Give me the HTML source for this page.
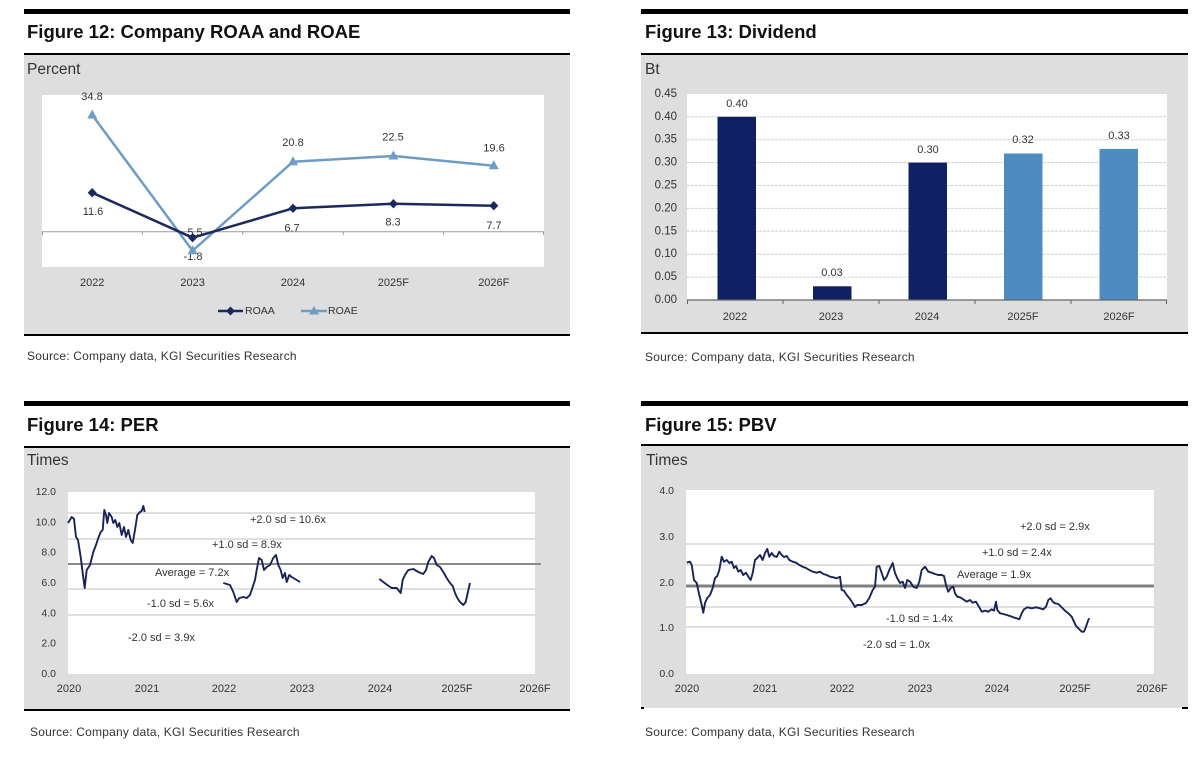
<!DOCTYPE html>
<html><head><meta charset="utf-8"><style>
html,body{margin:0;padding:0;background:#fff;}
svg{display:block;}
text{font-family:"Liberation Sans",Arial,sans-serif;fill:#333;}
.t{font-weight:bold;font-size:18.5px;fill:#111;}
.u{font-size:15.5px;fill:#333;}
.s{font-size:12px;letter-spacing:0.2px;fill:#333;}
.l{font-size:11px;}
.y{font-size:10.5px;}
</style></head><body>
<svg width="1200" height="760" viewBox="0 0 1200 760" xmlns="http://www.w3.org/2000/svg">
<rect width="1200" height="760" fill="#fff"/>

<!-- ============ Figure 12 ============ -->
<rect x="24" y="9" width="546" height="5" fill="#000"/>
<text class="t" x="27" y="38">Figure 12: Company ROAA and ROAE</text>
<rect x="24" y="53" width="546" height="2" fill="#000"/>
<rect x="24" y="55" width="546" height="279" fill="#dedede"/>
<rect x="24" y="334" width="546" height="2" fill="#000"/>
<text class="u" x="27" y="74">Percent</text>
<rect x="42" y="95" width="502" height="172" fill="#fff"/>
<line x1="42" y1="231.7" x2="544" y2="231.7" stroke="#9a9a9a" stroke-width="1"/>
<g stroke="#9a9a9a" stroke-width="1">
<line x1="42.5" y1="231.7" x2="42.5" y2="235"/><line x1="142.4" y1="231.7" x2="142.4" y2="235"/><line x1="242.8" y1="231.7" x2="242.8" y2="235"/><line x1="343.2" y1="231.7" x2="343.2" y2="235"/><line x1="443.6" y1="231.7" x2="443.6" y2="235"/><line x1="543.5" y1="231.7" x2="543.5" y2="235"/>
</g>
<g class="l" text-anchor="middle" dominant-baseline="central">
<text x="92" y="97">34.8</text>
<text x="293" y="143">20.8</text>
<text x="393" y="137.5">22.5</text>
<text x="494" y="148.5">19.6</text>
<text x="93" y="212">11.6</text>
<text x="292" y="228.5">6.7</text>
<text x="393" y="222.5">8.3</text>
<text x="494" y="226">7.7</text>
<text x="195" y="233">5.5</text>
<text x="193" y="257">-1.8</text>
</g>
<polyline points="92.2,115 192.6,250.7 293,161.7 393.4,156 493.8,165.7" fill="none" stroke="#6d9dc5" stroke-width="2.5" stroke-linejoin="round"/>
<g fill="#6d9dc5">
<path d="M92.2,109.5 L97.2,118.5 L87.2,118.5Z"/><path d="M192.6,245.2 L197.6,254.2 L187.6,254.2Z"/><path d="M293,156.2 L298,165.2 L288,165.2Z"/><path d="M393.4,150.5 L398.4,159.5 L388.4,159.5Z"/><path d="M493.8,160.2 L498.8,169.2 L488.8,169.2Z"/>
</g>
<polyline points="92.2,192.7 192.6,237.7 293,208.3 393.4,203.7 493.8,205.7" fill="none" stroke="#1b2a5e" stroke-width="2.5" stroke-linejoin="round"/>
<g fill="#1b2a5e">
<path d="M92.2,188 L96.7,192.7 L92.2,197.4 L87.7,192.7Z"/><path d="M192.6,233 L197.1,237.7 L192.6,242.4 L188.1,237.7Z"/><path d="M293,203.6 L297.5,208.3 L293,213 L288.5,208.3Z"/><path d="M393.4,199 L397.9,203.7 L393.4,208.4 L388.9,203.7Z"/><path d="M493.8,201 L498.3,205.7 L493.8,210.4 L489.3,205.7Z"/>
</g>
<g class="l" text-anchor="middle" dominant-baseline="central">
<text x="92.2" y="283">2022</text><text x="192.6" y="283">2023</text><text x="293" y="283">2024</text><text x="393.4" y="283">2025F</text><text x="493.8" y="283">2026F</text>
</g>
<line x1="218" y1="311" x2="243" y2="311" stroke="#1b2a5e" stroke-width="2.5"/>
<path d="M230.5,306.5 L235,311 L230.5,315.5 L226,311Z" fill="#1b2a5e"/>
<text x="245" y="311" font-size="10.5" dominant-baseline="central">ROAA</text>
<line x1="301" y1="311" x2="327" y2="311" stroke="#6d9dc5" stroke-width="2.5"/>
<path d="M314,306 L319,314.5 L309,314.5Z" fill="#6d9dc5"/>
<text x="328" y="311" font-size="10.5" dominant-baseline="central">ROAE</text>
<text class="s" x="27" y="360">Source: Company data, KGI Securities Research</text>

<!-- ============ Figure 13 ============ -->
<rect x="641" y="9" width="547" height="5" fill="#000"/>
<text class="t" x="645" y="38">Figure 13: Dividend</text>
<rect x="641" y="53" width="547" height="2" fill="#000"/>
<rect x="641" y="55" width="547" height="278" fill="#dedede"/>
<rect x="641" y="332" width="547" height="2" fill="#000"/>
<text class="u" x="645" y="74">Bt</text>
<rect x="687" y="94" width="480" height="206" fill="#fff"/>
<g stroke="#cfcfcf" stroke-width="1" stroke-dasharray="3,1">
<line x1="687" y1="277.1" x2="1167" y2="277.1"/><line x1="687" y1="254.2" x2="1167" y2="254.2"/><line x1="687" y1="231.3" x2="1167" y2="231.3"/><line x1="687" y1="208.4" x2="1167" y2="208.4"/><line x1="687" y1="185.5" x2="1167" y2="185.5"/><line x1="687" y1="162.6" x2="1167" y2="162.6"/><line x1="687" y1="139.7" x2="1167" y2="139.7"/><line x1="687" y1="116.8" x2="1167" y2="116.8"/>
</g>
<g font-size="11.5" text-anchor="end" dominant-baseline="central">
<text x="677" y="94">0.45</text><text x="677" y="116.8">0.40</text><text x="677" y="139.7">0.35</text><text x="677" y="162.6">0.30</text><text x="677" y="185.5">0.25</text><text x="677" y="208.4">0.20</text><text x="677" y="231.3">0.15</text><text x="677" y="254.2">0.10</text><text x="677" y="277.1">0.05</text><text x="677" y="300">0.00</text>
</g>
<rect x="717.5" y="116.8" width="38.5" height="183.2" fill="#0f2163"/>
<rect x="813" y="286.3" width="38.5" height="13.7" fill="#0f2163"/>
<rect x="908.5" y="162.6" width="38.5" height="137.4" fill="#0f2163"/>
<rect x="1004" y="153.5" width="38.5" height="146.5" fill="#4e8bc0"/>
<rect x="1099.5" y="148.9" width="38.5" height="151.1" fill="#4e8bc0"/>
<line x1="687" y1="300" x2="1167" y2="300" stroke="#666" stroke-width="1.2"/>
<g stroke="#666" stroke-width="1">
<line x1="687.5" y1="300" x2="687.5" y2="304"/><line x1="783" y1="300" x2="783" y2="304"/><line x1="879" y1="300" x2="879" y2="304"/><line x1="975" y1="300" x2="975" y2="304"/><line x1="1071" y1="300" x2="1071" y2="304"/><line x1="1166.5" y1="300" x2="1166.5" y2="304"/>
</g>
<g class="l" text-anchor="middle" dominant-baseline="central">
<text x="737" y="104">0.40</text><text x="832" y="273">0.03</text><text x="928" y="150">0.30</text><text x="1023" y="140">0.32</text><text x="1119" y="136">0.33</text>
<text x="735" y="317">2022</text><text x="831" y="317">2023</text><text x="927" y="317">2024</text><text x="1023" y="317">2025F</text><text x="1119" y="317">2026F</text>
</g>
<text class="s" x="645" y="361">Source: Company data, KGI Securities Research</text>

<!-- ============ Figure 14 ============ -->
<rect x="24" y="401" width="546" height="5" fill="#000"/>
<text class="t" x="27" y="431">Figure 14: PER</text>
<rect x="24" y="446" width="546" height="2" fill="#000"/>
<rect x="24" y="448" width="546" height="261" fill="#dedede"/>
<rect x="24" y="709" width="546" height="2" fill="#000"/>
<text class="u" x="27" y="465">Times</text>
<rect x="68" y="492" width="467" height="182" fill="#fff"/>
<g stroke="#d6d6d6" stroke-width="1.5">
<line x1="68" y1="513" x2="535" y2="513"/><line x1="68" y1="539" x2="535" y2="539"/><line x1="68" y1="589" x2="535" y2="589"/><line x1="68" y1="615" x2="535" y2="615"/>
</g>
<line x1="68" y1="564" x2="541" y2="564" stroke="#8a8a8a" stroke-width="2"/>
<g class="y" text-anchor="end" dominant-baseline="central">
<text x="56" y="492">12.0</text><text x="56" y="522.3">10.0</text><text x="56" y="552.7">8.0</text><text x="56" y="583">6.0</text><text x="56" y="613.3">4.0</text><text x="56" y="643.7">2.0</text><text x="56" y="674">0.0</text>
</g>
<g class="l" dominant-baseline="central">
<text x="250" y="520">+2.0 sd = 10.6x</text>
<text x="212" y="545">+1.0 sd = 8.9x</text>
<text x="155" y="573">Average = 7.2x</text>
<text x="147" y="604">-1.0 sd = 5.6x</text>
<text x="128" y="638">-2.0 sd = 3.9x</text>
</g>
<g fill="none" stroke="#1a2356" stroke-width="1.9" stroke-linejoin="round">
<polyline points="68,523 71.7,517 74,519 76,537 78,540 80.7,557 82.7,573 84.7,588 86.7,570 90,565 93.3,552 96,545 98.3,538 100.7,532 102.7,530 104.3,510 106,515 107.3,523 109,513 111.7,517 113.3,523 115.3,520 117.3,527 119.3,523 121.7,535 124,527 126,537 128.3,530 130.7,540 132.7,543 135,530 137.3,515 140,512 141.7,511 143.3,506 144.7,512"/>
<polyline points="223.3,583 230,585 233.3,592 236.7,602 239.3,598 243.3,597 246.7,598 250,595 251.7,590 255,580 256.7,570 259,558 261.7,560 264,570 266.7,567 270,565 273.3,558 276,555 278.3,565 280.7,570 282.7,578 285,573 286.7,582 289.3,575 291.7,577 295,579 298.3,581 300,582"/>
<polyline points="379.3,579 383.3,582 387.3,585 391.7,588 396.7,588 400.7,593 402.7,580 405,575 408.3,570 413.3,569 418.3,572 420.7,573 423.3,574 426,570 428.3,562 431.7,556 434,558 436.7,565 440,567 443.3,572 446.7,578 450,583 452.7,586 455,593 457.3,598 460,602 463.3,605 465.7,602 467.7,593 470,583"/>
</g>
<g class="l" text-anchor="middle" dominant-baseline="central">
<text x="69" y="689">2020</text><text x="147" y="689">2021</text><text x="224" y="689">2022</text><text x="302" y="689">2023</text><text x="380" y="689">2024</text><text x="457" y="689">2025F</text><text x="535" y="689">2026F</text>
</g>
<text class="s" x="30" y="736">Source: Company data, KGI Securities Research</text>

<!-- ============ Figure 15 ============ -->
<rect x="641" y="401" width="547" height="5" fill="#000"/>
<text class="t" x="645" y="431">Figure 15: PBV</text>
<rect x="641" y="444" width="547" height="2" fill="#000"/>
<rect x="641" y="446" width="547" height="262" fill="#dedede"/>
<rect x="641" y="707" width="3" height="2" fill="#000"/>
<rect x="1182" y="707" width="6" height="2" fill="#000"/>
<text class="u" x="646" y="465">Times</text>
<rect x="686" y="490" width="468" height="184" fill="#fff"/>
<g stroke="#d6d6d6" stroke-width="1.5">
<line x1="686" y1="544" x2="1154" y2="544"/><line x1="686" y1="565" x2="1154" y2="565"/><line x1="686" y1="607" x2="1154" y2="607"/><line x1="686" y1="627" x2="1154" y2="627"/>
</g>
<line x1="686" y1="586" x2="1154" y2="586" stroke="#7f7f7f" stroke-width="3"/>
<g class="y" text-anchor="end" dominant-baseline="central">
<text x="674" y="491">4.0</text><text x="674" y="537">3.0</text><text x="674" y="583">2.0</text><text x="674" y="628">1.0</text><text x="674" y="674">0.0</text>
</g>
<g class="l" dominant-baseline="central">
<text x="1020" y="527">+2.0 sd = 2.9x</text>
<text x="982" y="553">+1.0 sd = 2.4x</text>
<text x="957" y="575">Average = 1.9x</text>
<text x="886" y="619">-1.0 sd = 1.4x</text>
<text x="863" y="645">-2.0 sd = 1.0x</text>
</g>
<polyline fill="none" stroke="#1a2356" stroke-width="1.9" stroke-linejoin="round" points="686.7,562.7 690,561.7 691.7,565 694,580 696.7,583 699.3,595 701.7,605 703.3,612.7 705,603 707.3,598 710,595 712.7,588 715,578 717.3,576 719.3,570 721.7,556.7 724,561.7 726.7,560 729.3,563 731.7,561.7 734,568 736,566 738.3,571.7 740.7,570 743.3,575 746,572.7 748.3,576.7 750.7,580 752.7,573 755,560 757.3,558 760,555 762.7,560 765,553 767.3,549 769.3,556.7 771.7,553 774,556 776.7,557 779.3,551.7 781.7,555 784,557 786.7,556 789.3,560 792.7,561.7 796,562.7 799.3,565 802.7,566.7 806,568 809.3,570 812.7,571.7 816.7,572.7 820,571.7 823.3,574 826.7,575 830,576.7 833.3,577.3 836.7,578.3 840,576.7 841.7,590 844,590.7 846.7,595 850,599 852.7,603 855,607 857.3,605 861.7,605 866,603 869.3,598 872.7,590 875,586.7 876.7,566.7 879.3,566 881.7,573 884,580 886.7,576.7 889.3,570 892.7,563 895,573 897.3,578.3 900,583 902.7,581.7 905,588 907.3,580 910,581.7 913.3,586.7 916.7,588 919.3,581.7 921.7,570 925,566.7 928.3,571.7 931.7,572.7 935,574 938.3,575 941.7,575 944,576 946,585 948.3,591.7 950.7,588 953.3,586.7 955,593.3 957.3,596.7 960,597.3 963.3,599.3 966.7,601.7 970,600 972.7,602.7 976,601.7 979.3,607.3 981.7,611.7 985,610.7 988.3,611.7 991.7,609.3 994,610.7 996,601.7 997.3,610 1000,613.3 1003.3,614 1006.7,615 1010,616 1013.3,617.3 1016.7,618.3 1019.3,619.3 1021.7,613.3 1024,609.3 1027.3,607.3 1031.7,608.3 1036,607.3 1040,608.3 1043.3,609.3 1046,606.7 1048.3,600 1050.7,598.3 1052.7,601.7 1055,603.3 1058.3,604 1061.7,607.3 1065,610.7 1068.3,613.3 1071.7,616.7 1074,621.7 1076,626 1078.3,628.3 1081.7,631.7 1084,631.7 1086,626.7 1088.3,620 1089.3,618.3"/>
<g class="l" text-anchor="middle" dominant-baseline="central">
<text x="687" y="689">2020</text><text x="765" y="689">2021</text><text x="842" y="689">2022</text><text x="920" y="689">2023</text><text x="997" y="689">2024</text><text x="1075" y="689">2025F</text><text x="1152" y="689">2026F</text>
</g>
<text class="s" x="645" y="736">Source: Company data, KGI Securities Research</text>
</svg>
</body></html>
